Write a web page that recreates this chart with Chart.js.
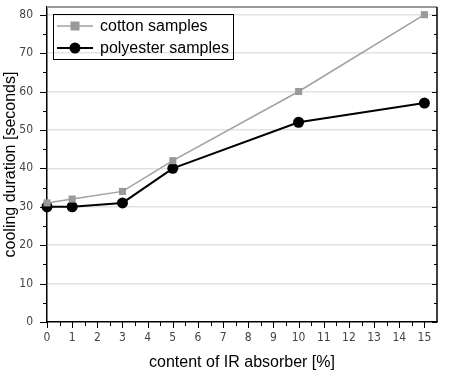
<!DOCTYPE html>
<html>
<head>
<meta charset="utf-8">
<script src="https://cdn.jsdelivr.net/npm/chart.js@4.4.0/dist/chart.umd.min.js"></script>
<style>
html,body{margin:0;padding:0;background:#fff;}
#wrap{width:456px;height:375px;}
</style>
</head>
<body>
<div id="wrap"><canvas id="c" width="456" height="375"></canvas></div>
<script>
const categories = [0, 1, 3, 5, 10, 15];
const cottonValues = [31, 32, 34, 42, 60, 80];
const polyesterValues = [30, 30, 31, 40, 52, 57];
const seriesNames = ['cotton samples', 'polyester samples'];
const xTickLabels = [0,1,2,3,4,5,6,7,8,9,10,11,12,13,14,15];
const yTickLabels = [0,10,20,30,40,50,60,70,80];
const xTitle = 'content of IR absorber [%]';
const yTitle = 'cooling duration [seconds]';

const toXY = (vals) => categories.map((c, i) => ({x: c, y: vals[i]}));

const decorPlugin = {
  id: 'decor',
  afterDraw(chart) {
    const ctx = chart.ctx;
    const a = chart.chartArea;
    const xs = chart.scales.x, ys = chart.scales.y;
    ctx.save();
    // top border (grey)
    ctx.strokeStyle = '#9a9a9a';
    ctx.lineWidth = 2;
    ctx.beginPath(); ctx.moveTo(a.left, a.top); ctx.lineTo(a.right, a.top); ctx.stroke();
    // right border
    ctx.strokeStyle = '#000';
    ctx.lineWidth = 1.5;
    ctx.beginPath(); ctx.moveTo(a.right, a.top); ctx.lineTo(a.right, a.bottom); ctx.stroke();
    ctx.lineWidth = 1;
    // y ticks
    for (let v = 0; v <= 80; v += 5) {
      const y = Math.round(ys.getPixelForValue(v)) + 0.5;
      const major = v % 10 === 0;
      const lenL = major ? 7 : 4;
      const lenR = major ? 5 : 3;
      ctx.beginPath(); ctx.moveTo(a.left - lenL, y); ctx.lineTo(a.left, y); ctx.stroke();
      ctx.beginPath(); ctx.moveTo(a.right - lenR, y); ctx.lineTo(a.right, y); ctx.stroke();
    }
    // x ticks
    for (let v = 0; v <= 15.001; v += 0.5) {
      const x = Math.round(xs.getPixelForValue(v)) + 0.5;
      const major = Math.abs(v - Math.round(v)) < 1e-6;
      const len = major ? 6 : 4;
      ctx.beginPath(); ctx.moveTo(x, a.bottom); ctx.lineTo(x, a.bottom + len); ctx.stroke();
    }
    // legend box
    const lx = 53, ly = 14, lw = 180, lh = 45;
    ctx.strokeStyle = '#000';
    ctx.lineWidth = 1;
    ctx.strokeRect(lx + 0.5, ly + 0.5, lw, lh);
    const rows = [ly + 12, ly + 34];
    chart.data.datasets.forEach((ds, i) => {
      const cy = rows[i];
      ctx.strokeStyle = ds.borderColor;
      ctx.lineWidth = ds.borderWidth;
      ctx.beginPath(); ctx.moveTo(lx + 4, cy); ctx.lineTo(lx + 40, cy); ctx.stroke();
      ctx.fillStyle = ds.pointBackgroundColor;
      if (ds.pointStyle === 'rect') {
        ctx.fillRect(lx + 22 - 4.5, cy - 4.5, 9, 9);
      } else {
        ctx.beginPath(); ctx.arc(lx + 22, cy, 5.5, 0, Math.PI * 2); ctx.fill();
      }
      ctx.fillStyle = '#000';
      ctx.font = '16px "Liberation Sans", Arial, sans-serif';
      ctx.textBaseline = 'middle';
      ctx.textAlign = 'left';
      ctx.fillText(ds.label, lx + 47, cy + 1);
    });
    ctx.restore();
  }
};

new Chart(document.getElementById('c'), {
  type: 'scatter',
  data: {
    datasets: [
      {
        label: seriesNames[0],
        data: toXY(cottonValues),
        showLine: true,
        borderColor: '#a0a0a0',
        borderWidth: 1.5,
        pointStyle: 'rect',
        pointRadius: 5,
        pointBackgroundColor: '#999999',
        pointBorderColor: '#999999',
        pointBorderWidth: 0,
        clip: false
      },
      {
        label: seriesNames[1],
        data: toXY(polyesterValues),
        showLine: true,
        borderColor: '#000000',
        borderWidth: 2,
        pointStyle: 'circle',
        pointRadius: 5.5,
        pointBackgroundColor: '#000000',
        pointBorderColor: '#000000',
        pointBorderWidth: 0,
        clip: false
      }
    ]
  },
  options: {
    responsive: false,
    animation: false,
    devicePixelRatio: 1,
    layout: {padding: {top: 7, right: 19, left: 0, bottom: 0}},
    plugins: {legend: {display: false}, tooltip: {enabled: false}},
    scales: {
      x: {
        type: 'linear',
        min: 0,
        max: 15.5,
        afterBuildTicks: (s) => { s.ticks = xTickLabels.map(v => ({value: v})); },
        afterFit: (s) => { s.height = 53; s.paddingLeft = 0; s.paddingRight = 0; },
        grid: {display: false, drawTicks: false},
        border: {display: true, color: '#000', width: 1.5},
        ticks: {
          padding: 9,
          color: '#444',
          font: {family: '"DejaVu Sans Condensed", "DejaVu Sans", sans-serif', size: 12},
          maxRotation: 0,
          autoSkip: false
        },
        title: {
          display: true,
          text: xTitle,
          color: '#000',
          font: {family: '"Liberation Sans", Arial, sans-serif', size: 16},
          padding: {top: 0, bottom: 3}
        }
      },
      y: {
        type: 'linear',
        min: 0,
        max: 82,
        afterBuildTicks: (s) => { s.ticks = yTickLabels.map(v => ({value: v})); },
        afterFit: (s) => { s.width = 47; s.paddingTop = 0; s.paddingBottom = 0; },
        grid: {
          display: true,
          drawTicks: false,
          color: (c) => (c.tick && c.tick.value !== 0) ? '#e2e2e2' : 'rgba(0,0,0,0)',
          lineWidth: 1.5
        },
        border: {display: true, color: '#000', width: 1.5},
        ticks: {
          padding: 14,
          color: '#444',
          font: {family: '"DejaVu Sans Condensed", "DejaVu Sans", sans-serif', size: 12}
        },
        title: {
          display: true,
          text: yTitle,
          color: '#000',
          font: {family: '"Liberation Sans", Arial, sans-serif', size: 16},
          padding: {top: 1, bottom: 0}
        }
      }
    }
  },
  plugins: [decorPlugin]
});
</script>
</body>
</html>
